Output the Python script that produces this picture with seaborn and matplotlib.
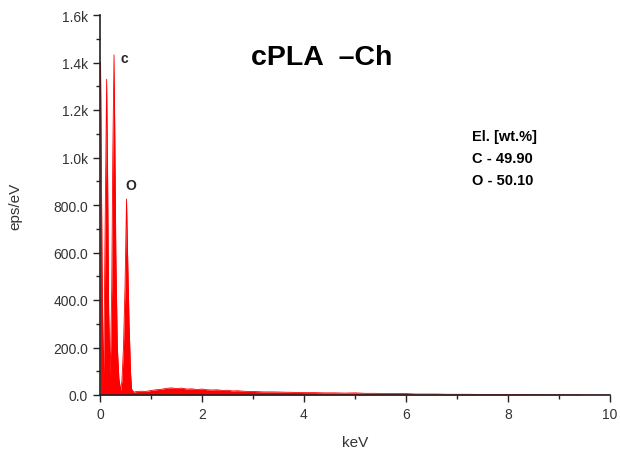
import numpy as np
import pandas as pd
import matplotlib
matplotlib.use("Agg")
import matplotlib.pyplot as plt
import seaborn as sns
from matplotlib.ticker import MultipleLocator, FuncFormatter

# EDS spectrum of cPLA-Ch
energy_kev = [0.0, 0.01, 0.02, 0.04, 0.065, 0.08, 0.10, 0.13, 0.15, 0.17, 0.20,
              0.23, 0.25, 0.275, 0.29, 0.31, 0.34, 0.37, 0.405, 0.43, 0.46, 0.49,
              0.52, 0.54, 0.57, 0.60, 0.62, 0.66,
              0.7, 0.8, 0.9, 1.0, 1.1, 1.2, 1.3, 1.4, 1.5, 1.6, 1.7, 1.8, 1.9,
              2.0, 2.1, 2.2, 2.3, 2.4, 2.5, 2.6, 2.7, 2.8, 2.9, 3.0, 3.2, 3.4,
              3.6, 3.8, 4.0, 4.2, 4.4, 4.6, 4.8, 5.0, 5.2, 5.4, 5.6, 5.8, 6.0,
              6.2, 6.4, 6.6, 6.8, 7.0, 7.2, 7.4, 7.6, 7.8, 8.0, 8.2, 8.4, 8.6,
              8.8, 9.0, 9.2, 9.4, 9.5, 10.0]
counts = [1250, 1400, 1150, 550, 40, 250, 700, 1330, 900, 350, 80,
          450, 1000, 1432, 1100, 600, 200, 70, 18, 60, 200, 450,
          825, 600, 300, 90, 25, 12,
          14, 16, 15, 19, 22, 24, 28, 30, 27, 29, 25, 26, 23,
          25, 22, 21, 22, 19, 20, 17, 18, 16, 15, 15, 13, 13,
          12, 11, 10, 10, 9, 9, 8, 9, 7, 7, 6, 6, 6,
          4, 4, 4, 3, 3, 3, 2.5, 2, 2, 2, 2, 1.5, 1.5,
          1.2, 1.2, 1, 1, 0, 0]

y_ticks = [0, 200, 400, 600, 800, 1000, 1200, 1400, 1600]
y_labels = ["0.0", "200.0", "400.0", "600.0", "800.0", "1.0k", "1.2k", "1.4k", "1.6k"]
wt_lines = ["El. [wt.%]", "C - 49.90", "O - 50.10"]

df = pd.DataFrame({"keV": energy_kev, "eps/eV": counts})

sns.set_style("ticks")
plt.rcParams["font.family"] = ["Liberation Sans", "DejaVu Sans"]

fig = plt.figure(figsize=(6.2, 4.52), dpi=100)
ax = fig.add_axes([100 / 620, 1 - 396 / 452, 510 / 620, 380 / 452])

ax.fill_between(df["keV"], df["eps/eV"], 0, color="#ff0000", linewidth=0)
sns.lineplot(data=df, x="keV", y="eps/eV", ax=ax, color="#ff0000", linewidth=0.6)

ax.set_xlim(0, 10)
ax.set_ylim(0, 1600)
ax.xaxis.set_major_locator(MultipleLocator(2))
ax.xaxis.set_minor_locator(MultipleLocator(1))
ax.set_yticks(y_ticks)
ax.set_yticklabels(y_labels)
ax.yaxis.set_minor_locator(MultipleLocator(100))
ax.xaxis.set_major_formatter(FuncFormatter(lambda v, p: f"{v:g}"))

sns.despine(ax=ax)
for s in ["left", "bottom"]:
    ax.spines[s].set_linewidth(1.2)
    ax.spines[s].set_color("#222222")
ax.tick_params(which="major", length=5, width=1.0, color="#222222",
               labelsize=10, labelcolor="#333333", direction="out")
ax.tick_params(which="minor", length=3, width=1.0, color="#222222", direction="out")

ax.set_xlabel("keV", fontsize=11, color="#333333", labelpad=10)
ax.set_ylabel("eps/eV", fontsize=11, color="#333333", labelpad=22)

ax.text(4.35, 1425, "cPLA  \u2013Ch", fontsize=20.5, fontweight="bold",
        ha="center", va="center", color="black")
ax.text(0.40, 1418, "c", fontsize=10, fontweight="bold", ha="left", va="center")
ax.text(0.60, 883, "O", fontsize=10, fontweight="bold", ha="center", va="center")

for i, line in enumerate(wt_lines):
    ax.text(7.3, 1090 - i * 92, line, fontsize=10.5, fontweight="bold",
            ha="left", va="center", color="black")

fig.savefig("out.png", dpi=100)
